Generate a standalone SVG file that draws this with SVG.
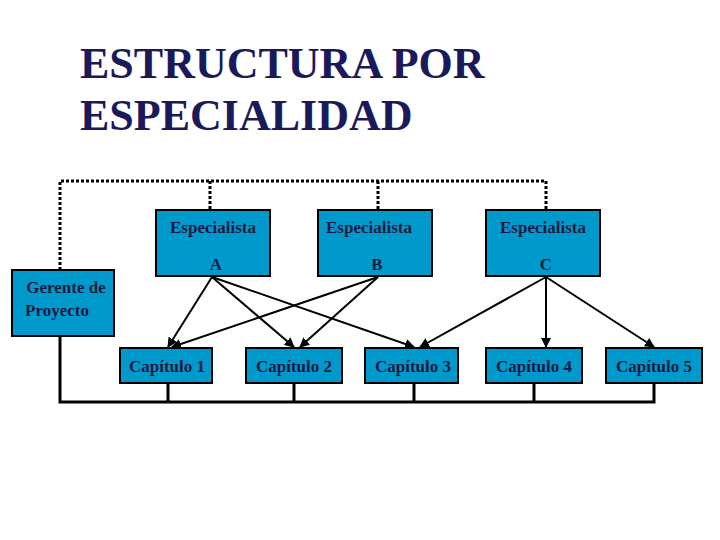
<svg xmlns="http://www.w3.org/2000/svg" width="720" height="540" viewBox="0 0 720 540">
<style>
.box{fill:#0099cc;stroke:#000;stroke-width:2}
.t{font-family:"Liberation Serif",serif;font-weight:bold;font-size:17px;fill:#1a1a40;text-anchor:middle}
.title{font-family:"Liberation Serif",serif;font-weight:bold;font-size:44px;fill:#1a1a5a}
.dot{fill:none;stroke:#000;stroke-width:3;stroke-dasharray:3 2}
.solid{fill:none;stroke:#000;stroke-width:3}
.arr{stroke:#000;stroke-width:2;marker-end:url(#ah)}
</style>
<defs><marker id="ah" viewBox="0 0 10 10" refX="9" refY="5" markerWidth="5" markerHeight="5" orient="auto"><path d="M0,0L10,5L0,10z" fill="#000"/></marker></defs>
<rect width="720" height="540" fill="#fff"/>
<text class="title" x="80" y="78">ESTRUCTURA POR</text>
<text class="title" x="80" y="130">ESPECIALIDAD</text>
<g id="connectors">
<path class="dot" d="M60,270V181H546V210M210,181V210M378,181V210"/>
<path class="solid" d="M60,336V402H654V383M168,383V402M294,383V402M414,383V402M534,383V402"/>
<line class="arr" x1="212" y1="277" x2="168" y2="347"/>
<line class="arr" x1="212" y1="277" x2="294" y2="347"/>
<line class="arr" x1="212" y1="277" x2="414" y2="347"/>
<line class="arr" x1="378" y1="277" x2="172" y2="347"/>
<line class="arr" x1="378" y1="277" x2="300" y2="347"/>
<line class="arr" x1="546" y1="277" x2="420" y2="347"/>
<line class="arr" x1="546" y1="277" x2="546" y2="347"/>
<line class="arr" x1="546" y1="277" x2="654" y2="347"/>
</g>
<g id="gerente"><rect class="box" x="12" y="270" width="102" height="66"/><text class="t" x="66" y="293">Gerente de</text><text class="t" x="57" y="316">Proyecto</text></g>
<g id="espA"><rect class="box" x="156" y="210" width="114" height="66"/><text class="t" x="213" y="233">Especialista</text><text class="t" x="216" y="270">A</text></g>
<g id="espB"><rect class="box" x="318" y="210" width="114" height="66"/><text class="t" x="369" y="233">Especialista</text><text class="t" x="377" y="270">B</text></g>
<g id="espC"><rect class="box" x="486" y="210" width="114" height="66"/><text class="t" x="543" y="233">Especialista</text><text class="t" x="546" y="270">C</text></g>
<g id="cap1"><rect class="box" x="120" y="348" width="92" height="35"/><text class="t" x="167" y="372">Capítulo 1</text></g>
<g id="cap2"><rect class="box" x="246" y="348" width="96" height="35"/><text class="t" x="294" y="372">Capítulo 2</text></g>
<g id="cap3"><rect class="box" x="365" y="348" width="93" height="35"/><text class="t" x="413" y="372">Capítulo 3</text></g>
<g id="cap4"><rect class="box" x="486" y="348" width="96" height="35"/><text class="t" x="534" y="372">Capítulo 4</text></g>
<g id="cap5"><rect class="box" x="606" y="348" width="96" height="35"/><text class="t" x="654" y="372">Capítulo 5</text></g>
</svg>
